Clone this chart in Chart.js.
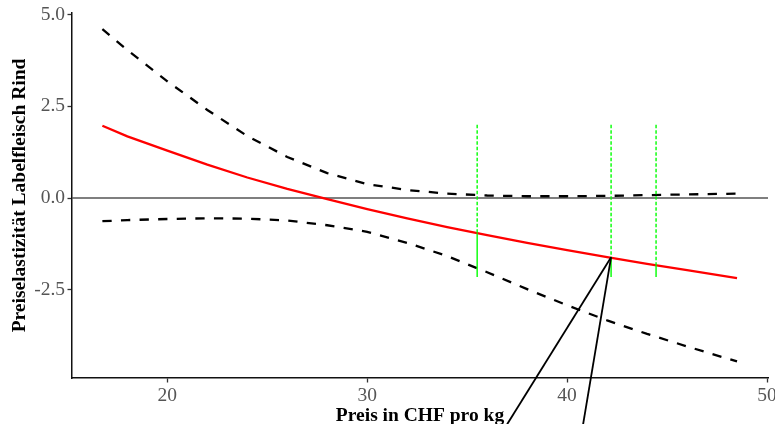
<!DOCTYPE html>
<html><head><meta charset="utf-8">
<script src="https://cdn.jsdelivr.net/npm/chart.js@4"></script>
<style>html,body{margin:0;padding:0;background:#fff}#wrap{width:775px;height:424px;position:relative}</style>
</head><body><div id="wrap"><canvas id="c"></canvas></div>
<script>
// ---- data ----
const priceX     = [16.75, 18, 20, 22, 24, 26, 28, 30, 32, 34, 36, 38, 40, 42, 44, 46, 48.5];
const elasticity = [1.97, 1.68, 1.29, 0.91, 0.56, 0.25, -0.03, -0.30, -0.55, -0.79, -1.01, -1.22, -1.42, -1.61, -1.79, -1.96, -2.18];
const upperCI    = [4.60, 4.03, 3.18, 2.40, 1.69, 1.12, 0.68, 0.38, 0.22, 0.12, 0.07, 0.05, 0.05, 0.06, 0.08, 0.10, 0.12];
const lowerCI    = [-0.63, -0.60, -0.57, -0.55, -0.56, -0.61, -0.74, -0.92, -1.22, -1.58, -2.02, -2.48, -2.92, -3.33, -3.70, -4.04, -4.45];
const xTicks = [20, 30, 40, 50];
const yTicks = [-2.5, 0, 2.5, 5];
const xTitle = 'Preis in CHF pro kg';
const yTitle = 'Preiselastizität Labelfleisch Rind';
const markerX   = [35.5, 42.2, 44.45];
const markerRed = [-0.96, -1.61, -1.84];
const markerTop = 2.0, markerBottom = -2.15;
const annotApex = [42.2, -1.61];
const annotEndX = [37.0, 40.8];
const annotEndY = -6.16;
const xRange = [15.23, 50.05];
const yRange = [-4.9, 5.04];
const refLineY = 0;

const FONT = 'Liberation Serif';
const pts = (xs, ys) => xs.map((x, i) => ({x, y: ys[i]}));
const base = {type: 'line', pointRadius: 0, pointHoverRadius: 0, fill: false, tension: 0, borderCapStyle: 'butt'};

const datasets = [];
datasets.push({...base, data: [{x: xRange[0], y: refLineY}, {x: xRange[1], y: refLineY}], borderColor: '#555555', borderWidth: 1.6, order: 10});
datasets.push({...base, data: pts(priceX, upperCI), borderColor: '#000', borderWidth: 2.3, borderDash: [9.3, 9.3], order: 8});
datasets.push({...base, data: pts(priceX, lowerCI), borderColor: '#000', borderWidth: 2.3, borderDash: [9.3, 9.3], order: 8});
datasets.push({...base, data: pts(priceX, elasticity), borderColor: '#ff0000', borderWidth: 2.3, order: 6});
markerX.forEach((mx, i) => {
  datasets.push({...base, data: [{x: mx, y: markerTop}, {x: mx, y: markerRed[i]}], borderColor: '#00ff00', borderWidth: 1.4, borderDash: [3.5, 2], order: 4});
  datasets.push({...base, data: [{x: mx, y: markerRed[i]}, {x: mx, y: markerBottom}], borderColor: '#00ff00', borderWidth: 1.4, order: 4});
});
annotEndX.forEach(ex => {
  datasets.push({...base, data: [{x: annotApex[0], y: annotApex[1]}, {x: ex, y: annotEndY}], borderColor: '#000', borderWidth: 1.8, clip: false, order: 2});
});

new Chart(document.getElementById('c'), {
  type: 'line',
  data: {datasets},
  options: {
    responsive: true, maintainAspectRatio: false, animation: false,
    layout: {padding: {top: 13, right: 7, left: 0, bottom: 0}},
    plugins: {legend: {display: false}, tooltip: {enabled: false}},
    scales: {
      x: {
        type: 'linear', min: xRange[0], max: xRange[1],
        afterBuildTicks: s => { s.ticks = xTicks.map(v => ({value: v})); },
        afterFit: s => { s.height = 46; s.paddingLeft = 0; s.paddingRight = 0; },
        grid: {display: true, drawOnChartArea: false, drawTicks: true, tickLength: 4.5, tickColor: '#333', tickWidth: 1.3},
        border: {display: true, color: '#111', width: 1.5},
        ticks: {padding: 1.5, color: '#555', font: {family: FONT, size: 19.5}, maxRotation: 0, autoSkip: false},
        title: {display: true, text: xTitle, color: '#000', font: {family: FONT, size: 19.5, weight: 'bold', lineHeight: 1.2}, padding: {top: 0, bottom: -4}}
      },
      y: {
        type: 'linear', min: yRange[0], max: yRange[1],
        afterBuildTicks: s => { s.ticks = yTicks.map(v => ({value: v})); },
        afterFit: s => { s.width = 72; s.paddingTop = 0; s.paddingBottom = 0; },
        grid: {display: true, drawOnChartArea: false, drawTicks: true, tickLength: 4.5, tickColor: '#333', tickWidth: 1.3},
        border: {display: true, color: '#111', width: 1.5},
        ticks: {padding: 2.5, color: '#555', font: {family: FONT, size: 19.5}, callback: v => Number(v).toFixed(1), autoSkip: false},
        title: {display: true, text: yTitle, color: '#000', font: {family: FONT, size: 19.5, weight: 'bold', lineHeight: 1.2}, padding: {top: 8, bottom: 0}}
      }
    }
  }
});
</script></body></html>
